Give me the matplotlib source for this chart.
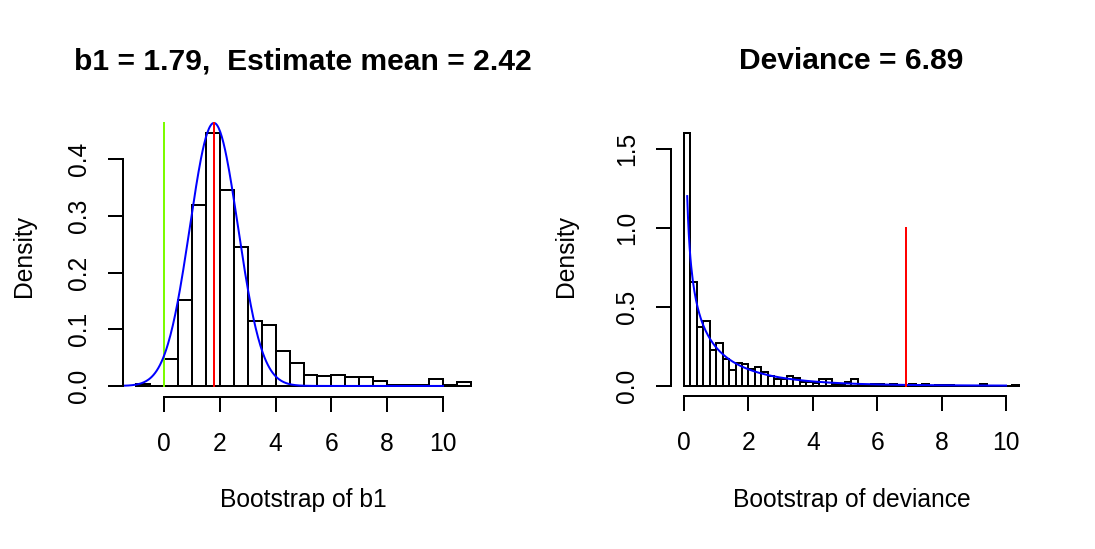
import matplotlib
matplotlib.use("Agg")
import matplotlib.pyplot as plt
import numpy as np

plt.rcParams['font.family'] = ['Liberation Sans', 'DejaVu Sans']

# bootstrap of b1: histogram (bin width 0.5, from -1 to 11)
b1_bin_start = -1.0
b1_bin_width = 0.5
b1_density = [0.003, 0.0, 0.047, 0.152, 0.320, 0.447, 0.346, 0.245,
              0.115, 0.108, 0.061, 0.040, 0.019, 0.017, 0.019, 0.015,
              0.015, 0.009, 0.002, 0.002, 0.002, 0.013, 0.002, 0.007]
b1_value = 1.79
b1_sd = 0.86          # sd of fitted normal curve
b1_curve_range = (-1.5, 10.0)
b1_line_top = 0.464

# bootstrap of deviance: histogram (bin width 0.2, from 0 to 10.4)
dev_bin_start = 0.0
dev_bin_width = 0.2
dev_density = [1.600, 0.658, 0.373, 0.407, 0.228, 0.268, 0.172, 0.100,
               0.145, 0.136, 0.106, 0.116, 0.085, 0.062, 0.045, 0.045,
               0.062, 0.051, 0.022, 0.022, 0.016, 0.040, 0.040, 0.013,
               0.013, 0.022, 0.040, 0.006, 0.006, 0.010, 0.010, 0.003,
               0.010, 0.003, 0.003, 0.010, 0.003, 0.010, 0.000, 0.006,
               0.006, 0.003, 0.000, 0.000, 0.000, 0.000, 0.010, 0.000,
               0.000, 0.000, 0.000, 0.006]
dev_value = 6.89
dev_df = 1            # chi-square reference curve
dev_curve_range = (0.1, 10.0)
dev_line_top = 1.0

x_ticks = [0, 2, 4, 6, 8, 10]
b1_yticks = [0.0, 0.1, 0.2, 0.3, 0.4]
dev_yticks = [0.0, 0.5, 1.0, 1.5]

W, H = 1095, 549
LW = 1.44
FS = 17.7

fig = plt.figure(figsize=(W / 100, H / 100), dpi=100)


def px_axes(x0, y0, x1, y1):
    return fig.add_axes([x0 / W, 1 - y1 / H, (x1 - x0) / W, (y1 - y0) / H])


def style(ax, yticks):
    for s in ['top', 'right']:
        ax.spines[s].set_visible(False)
    ax.spines['left'].set_bounds(yticks[0], yticks[-1])
    ax.spines['bottom'].set_bounds(x_ticks[0], x_ticks[-1])
    for s in ['left', 'bottom']:
        ax.spines[s].set_linewidth(LW)
    ax.set_xticks(x_ticks)
    ax.set_yticks(yticks)
    ax.set_yticklabels(['%.1f' % v for v in yticks], rotation=90, va='center')
    ax.tick_params(length=10.8, width=LW, labelsize=FS, pad=12)
    ax.tick_params(axis='x', pad=14.5)


# left panel
ax1 = px_axes(122.7, 112.4, 484.3, 396.5)
edges = b1_bin_start + b1_bin_width * np.arange(len(b1_density))
ax1.bar(edges, b1_density, width=b1_bin_width, align='edge',
        facecolor='white', edgecolor='black', linewidth=LW)
ax1.plot([0, 0], [0, b1_line_top], color='#7CFC00', lw=LW)
xs = np.linspace(b1_curve_range[0], b1_curve_range[1], 400)
ys = np.exp(-0.5 * ((xs - b1_value) / b1_sd) ** 2) / (b1_sd * np.sqrt(2 * np.pi))
ax1.plot(xs, ys, color='blue', lw=LW)
ax1.plot([b1_value, b1_value], [0, b1_line_top], color='red', lw=LW)
ax1.set_xlim(-1.48, 11.48)
ax1.set_ylim(-0.0186, 0.4825)
style(ax1, b1_yticks)

# right panel
ax2 = px_axes(670.6, 122.8, 1032.3, 395.8)
edges = dev_bin_start + dev_bin_width * np.arange(len(dev_density))
ax2.bar(edges, dev_density, width=dev_bin_width, align='edge',
        facecolor='white', edgecolor='black', linewidth=LW)
xs = np.linspace(dev_curve_range[0], dev_curve_range[1], 400)
ys = xs ** (dev_df / 2 - 1) * np.exp(-xs / 2) / np.sqrt(2 * np.pi)
ax2.plot(xs, ys, color='blue', lw=LW)
ax2.plot([dev_value, dev_value], [0, dev_line_top], color='red', lw=LW)
ax2.set_xlim(-0.416, 10.816)
ax2.set_ylim(-0.064, 1.664)
style(ax2, dev_yticks)

# titles and axis labels (pixel positions)
def ftext(x, y, s, **kw):
    fig.text(x / W, 1 - y / H, s, ha='center', va='center', **kw)

ftext(303, 61, 'b1 = %.2f,  Estimate mean = 2.42' % b1_value, fontsize=21.6, fontweight='bold')
ftext(851.5, 61, 'Deviance = %.2f' % dev_value, fontsize=21.6, fontweight='bold')
ftext(303.5, 500, 'Bootstrap of b1', fontsize=FS)
ftext(851.5, 500, 'Bootstrap of deviance', fontsize=FS)
ftext(24, 256, 'Density', fontsize=FS, rotation=90)
ftext(566, 256, 'Density', fontsize=FS, rotation=90)

fig.savefig('out.png', dpi=100)
